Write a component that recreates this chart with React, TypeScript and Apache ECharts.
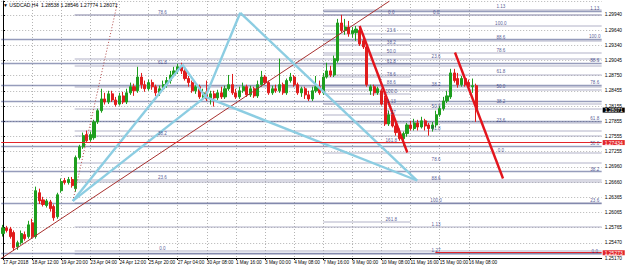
import { useEffect, useRef } from 'react';
import * as echarts from 'echarts';

const header = '\u25BC USDCAD,H4  1.28538 1.28546 1.27774 1.28071';

const dateLabels = [
  '17 Apr 2018', '18 Apr 12:00', '19 Apr 20:00', '23 Apr 04:00', '24 Apr 12:00', '25 Apr 20:00',
  '27 Apr 04:00', '30 Apr 08:00', '1 May 16:00', '3 May 00:00', '4 May 08:00', '7 May 16:00',
  '9 May 00:00', '10 May 08:00', '11 May 16:00', '15 May 00:00', '16 May 08:00',
];
const barsPerLabel = 8;
const slotCount = 165;

// [open, close, low, high]
const ohlc: number[][] = [
  [1.2565, 1.2576, 1.2559, 1.2582], [1.2576, 1.2571, 1.2567, 1.2580], [1.2574, 1.2559, 1.2555, 1.2578],
  [1.2567, 1.2537, 1.2531, 1.2571], [1.2539, 1.2547, 1.2533, 1.2551], [1.2547, 1.2565, 1.2543, 1.2571],
  [1.2563, 1.2555, 1.2551, 1.2569], [1.2559, 1.2582, 1.2555, 1.2590], [1.2586, 1.2559, 1.2555, 1.2594],
  [1.2559, 1.2649, 1.2555, 1.2657], [1.2645, 1.2629, 1.2623, 1.2653], [1.2631, 1.2622, 1.2618, 1.2637],
  [1.2620, 1.2629, 1.2616, 1.2633], [1.2627, 1.2614, 1.2608, 1.2631], [1.2618, 1.2596, 1.2590, 1.2622],
  [1.2598, 1.2641, 1.2594, 1.2645], [1.2649, 1.2667, 1.2645, 1.2673], [1.2669, 1.2665, 1.2661, 1.2674],
  [1.2665, 1.2671, 1.2661, 1.2676], [1.2671, 1.2659, 1.2655, 1.2676], [1.2653, 1.2714, 1.2647, 1.2718],
  [1.2714, 1.2735, 1.2710, 1.2739], [1.2735, 1.2757, 1.2731, 1.2763], [1.2759, 1.2747, 1.2743, 1.2767],
  [1.2749, 1.2759, 1.2745, 1.2765], [1.2753, 1.2784, 1.2749, 1.2788], [1.2784, 1.2806, 1.2780, 1.2810],
  [1.2806, 1.2829, 1.2802, 1.2849], [1.2829, 1.2823, 1.2818, 1.2841], [1.2823, 1.2839, 1.2819, 1.2845],
  [1.2839, 1.2827, 1.2823, 1.2845], [1.2827, 1.2818, 1.2814, 1.2833], [1.2819, 1.2835, 1.2816, 1.2841],
  [1.2835, 1.2823, 1.2819, 1.2843], [1.2823, 1.2841, 1.2819, 1.2849], [1.2841, 1.2853, 1.2837, 1.2861],
  [1.2853, 1.2845, 1.2835, 1.2859], [1.2845, 1.2872, 1.2841, 1.2892], [1.2872, 1.2857, 1.2849, 1.2880],
  [1.2857, 1.2849, 1.2843, 1.2865], [1.2849, 1.2861, 1.2845, 1.2867], [1.2861, 1.2853, 1.2847, 1.2867],
  [1.2853, 1.2841, 1.2835, 1.2857], [1.2841, 1.2849, 1.2835, 1.2855], [1.2849, 1.2857, 1.2845, 1.2865],
  [1.2857, 1.2865, 1.2851, 1.2872], [1.2865, 1.2876, 1.2859, 1.2884], [1.2876, 1.2884, 1.2872, 1.2892],
  [1.2884, 1.2892, 1.2878, 1.2898], [1.2892, 1.2884, 1.2878, 1.2900], [1.2884, 1.2869, 1.2865, 1.2892],
  [1.2869, 1.2861, 1.2853, 1.2874], [1.2861, 1.2845, 1.2841, 1.2865], [1.2845, 1.2853, 1.2839, 1.2857],
  [1.2853, 1.2833, 1.2829, 1.2857], [1.2833, 1.2841, 1.2829, 1.2849], [1.2841, 1.2829, 1.2825, 1.2865],
  [1.2829, 1.2839, 1.2818, 1.2845], [1.2839, 1.2831, 1.2814, 1.2845], [1.2831, 1.2841, 1.2827, 1.2847],
  [1.2841, 1.2833, 1.2829, 1.2853], [1.2833, 1.2849, 1.2829, 1.2855], [1.2849, 1.2857, 1.2845, 1.2876],
  [1.2857, 1.2841, 1.2837, 1.2878], [1.2841, 1.2833, 1.2829, 1.2849], [1.2833, 1.2845, 1.2829, 1.2853],
  [1.2845, 1.2853, 1.2841, 1.2861], [1.2853, 1.2837, 1.2833, 1.2857], [1.2837, 1.2849, 1.2833, 1.2855],
  [1.2849, 1.2835, 1.2831, 1.2853], [1.2835, 1.2857, 1.2831, 1.2865], [1.2857, 1.2872, 1.2853, 1.2884],
  [1.2872, 1.2861, 1.2857, 1.2876], [1.2861, 1.2841, 1.2837, 1.2865], [1.2841, 1.2849, 1.2837, 1.2855],
  [1.2849, 1.2845, 1.2841, 1.2857], [1.2845, 1.2857, 1.2841, 1.2908], [1.2857, 1.2841, 1.2837, 1.2861],
  [1.2841, 1.2865, 1.2837, 1.2869], [1.2865, 1.2872, 1.2861, 1.2880], [1.2872, 1.2857, 1.2853, 1.2876],
  [1.2857, 1.2841, 1.2837, 1.2861], [1.2841, 1.2849, 1.2833, 1.2853], [1.2849, 1.2837, 1.2829, 1.2853],
  [1.2837, 1.2829, 1.2825, 1.2845], [1.2829, 1.2845, 1.2825, 1.2853], [1.2845, 1.2853, 1.2841, 1.2874],
  [1.2853, 1.2841, 1.2837, 1.2865], [1.2841, 1.2872, 1.2837, 1.2880], [1.2872, 1.2884, 1.2869, 1.2900],
  [1.2884, 1.2876, 1.2872, 1.2894], [1.2876, 1.2908, 1.2872, 1.2914], [1.2904, 1.2978, 1.2900, 1.2986],
  [1.2978, 1.2963, 1.2959, 1.2994], [1.2963, 1.2970, 1.2955, 1.2986], [1.2970, 1.2957, 1.2951, 1.2982],
  [1.2957, 1.2963, 1.2949, 1.2970], [1.2959, 1.2966, 1.2943, 1.2972], [1.2963, 1.2937, 1.2933, 1.2968],
  [1.2943, 1.2931, 1.2927, 1.2951], [1.2931, 1.2857, 1.2853, 1.2935], [1.2845, 1.2853, 1.2837, 1.2857],
  [1.2853, 1.2841, 1.2835, 1.2857], [1.2841, 1.2849, 1.2837, 1.2853], [1.2845, 1.2819, 1.2816, 1.2849],
  [1.2831, 1.2780, 1.2776, 1.2835], [1.2780, 1.2798, 1.2776, 1.2806], [1.2798, 1.2776, 1.2773, 1.2802],
  [1.2776, 1.2763, 1.2757, 1.2782], [1.2763, 1.2751, 1.2747, 1.2771], [1.2751, 1.2761, 1.2737, 1.2765],
  [1.2761, 1.2778, 1.2755, 1.2782], [1.2778, 1.2771, 1.2767, 1.2786], [1.2771, 1.2782, 1.2767, 1.2790],
  [1.2782, 1.2774, 1.2767, 1.2788], [1.2774, 1.2786, 1.2771, 1.2794], [1.2786, 1.2776, 1.2767, 1.2790],
  [1.2778, 1.2771, 1.2757, 1.2782], [1.2771, 1.2778, 1.2765, 1.2784], [1.2778, 1.2798, 1.2773, 1.2806],
  [1.2798, 1.2810, 1.2794, 1.2816], [1.2810, 1.2825, 1.2806, 1.2833], [1.2825, 1.2835, 1.2821, 1.2845],
  [1.2833, 1.2880, 1.2829, 1.2888], [1.2880, 1.2865, 1.2861, 1.2888], [1.2869, 1.2857, 1.2851, 1.2880],
  [1.2857, 1.2869, 1.2853, 1.2874], [1.2869, 1.2857, 1.2853, 1.2872], [1.2861, 1.2853, 1.2849, 1.2867],
  [1.2853, 1.2855, 1.2841, 1.2869], [1.2855, 1.2807, 1.2784, 1.2859],
];

const yTickLabels = [
  '1.25170', '1.25470', '1.25765', '1.26065', '1.26365', '1.26660', '1.26960', '1.27255', '1.27555',
  '1.27855', '1.28155', '1.28455', '1.28750', '1.29045', '1.29340', '1.29640', '1.29940',
];
const yMin = 1.2517;
const yStep = 0.00298125;
const yMax = 1.30211;

// Fibonacci objects: levels (%), price at 0% and 100%, bar span, bar where the texts sit
const fibALevels = [0, 23.6, 38.2, 61.8, 78.6];
const fibBLevels = [0, 23.6, 38.2, 50, 61.8, 78.6, 88.6, 100, 113, 127, 161.8, 261.8];
const fibCLevels = [0, 23.6, 38.2, 50, 61.8, 78.6, 88.6, 100, 113, 127];
const fibDLevels = [0, 23.6, 38.2, 50, 61.8, 78.6, 88.6, 100, 113];
const fibELevels = [0, 23.6, 38.2, 50, 61.8, 78.6, 88.6, 100, 113];
const fibAnchors = [
  { levels: fibALevels, p0: 1.25314, p100: 1.31194, from: 19.7, to: 164.5, textAt: 43.8 },
  { levels: fibBLevels, p0: 1.2994, p100: 1.28391, from: 88, to: 112, textAt: 106.7 },
  { levels: fibCLevels, p0: 1.2994, p100: 1.26255, from: 19.7, to: 164.5, textAt: 119 },
  { levels: fibDLevels, p0: 1.27235, p100: 1.29724, from: 88, to: 164.5, textAt: 136.8 },
  { levels: fibELevels, p0: 1.25255, p100: 1.29469, from: -0.5, to: 164.5, textAt: 162.6 },
];
const fibETopFrom = 88; // the 1.13 line of the right-edge fib starts mid-chart
const levelName = (lv: number) => (lv === 113 ? '1.13' : lv === 127 ? '1.27' : lv.toFixed(1));

const navyLevels = [1.28254];
const redLevels = [1.27434, 1.25273];
const redLevelFrom = [-0.5, 118.8];
const lastPrice = 1.28071;

// XABCD harmonic pattern points (bar index, price)
const patternIdx = [19.2, 49.3, 55.6, 65.2, 113.8];
const patternPrice = [1.2629, 1.2896, 1.2833, 1.2998, 1.2669];
const patternLegs = [[0, 1], [1, 2], [2, 3], [3, 4], [0, 2], [2, 4]];

const arrowLines = [
  [[98.0, 1.2972], [111.1, 1.2724]],
  [[124.2, 1.292], [137.4, 1.2673]],
];
const trendLine = [[-0.5, 1.2516], [106.2, 1.3021]];
const fanLine = [[19.2, 1.2629], [31.5, 1.3019]];

const FONT = 'Liberation Sans';

export default function App() {
  const ref = useRef<HTMLDivElement>(null);
  useEffect(() => {
    if (!ref.current) return;
    const chart = echarts.init(ref.current, undefined, { renderer: 'svg' });
    const categories = Array.from({ length: slotCount }, (_, i) => String(i));
    const isLabelBar = (i: number) => i % barsPerLabel === 0 && i / barsPerLabel < dateLabels.length;

    const hLines: any[] = [];
    const fibTexts: any[] = [];
    fibAnchors.forEach((f, fi) => {
      f.levels.forEach((lv) => {
        const p = f.p0 + ((f.p100 - f.p0) * lv) / 100;
        const from = fi === 4 && lv > 100 ? fibETopFrom : f.from;
        hLines.push({
          coords: [[from, p], [f.to, p]],
          lineStyle: fi === 4 ? { color: '#2d3a78', width: 1.3 } : { color: '#9a9ab6', width: 1.5 },
        });
        fibTexts.push({ value: [f.textAt, p], name: levelName(lv) });
      });
    });
    navyLevels.forEach((p) => hLines.push({ coords: [[-0.5, p], [164.5, p]], lineStyle: { color: '#2d3a78', width: 1.3 } }));

    const blueLegs = patternLegs.map(([a, b]) => ({
      coords: [[patternIdx[a], patternPrice[a]], [patternIdx[b], patternPrice[b]]],
    }));

    const boxLabel = (bg: string, text: string) => ({
      show: true, position: 'end', distance: 1, formatter: text, backgroundColor: bg, color: '#fff',
      fontSize: 5, lineHeight: 5, fontFamily: FONT, padding: [0, 2, 0, 2],
    });

    const markData: any[] = redLevels.map((p, i) => [
      { coord: [redLevelFrom[i], p], lineStyle: { color: '#e3262a', width: 1, type: 'solid' }, label: boxLabel('#e3262a', p.toFixed(5)) },
      { coord: [164.5, p] },
    ]);
    markData.push([
      { coord: [-0.5, lastPrice], lineStyle: { color: 'rgba(0,0,0,0)', width: 0 }, label: boxLabel('#000', lastPrice.toFixed(5)) },
      { coord: [164.5, lastPrice] },
    ]);

    const option: any = {
      animation: false,
      backgroundColor: '#ffffff',
      textStyle: { fontFamily: FONT },
      graphic: [
        { type: 'text', left: 3, top: 2, z: 100, style: { text: header, fontSize: 5, fill: '#000', fontFamily: FONT } },
      ],
      grid: { left: 1, right: 21, top: 1, bottom: 10, containLabel: false },
      xAxis: [
        {
          type: 'category',
          data: categories,
          boundaryGap: true,
          axisLine: { show: true, lineStyle: { color: '#000', width: 1 } },
          axisTick: { show: true, alignWithLabel: true, interval: (i: number) => isLabelBar(i), length: 2, lineStyle: { color: '#000' } },
          axisLabel: {
            interval: 0, fontSize: 4.7, color: '#000', align: 'left', margin: 2, fontFamily: FONT,
            formatter: (_v: string, i: number) => (isLabelBar(i) ? dateLabels[i / barsPerLabel] : ''),
          },
          splitLine: {
            show: true, alignWithLabel: true, interval: (i: number) => isLabelBar(i),
            lineStyle: { color: '#b4b4b4', type: [1, 2], width: 1 },
          },
        },
        { type: 'value', min: -0.5, max: slotCount - 0.5, show: false },
      ],
      yAxis: {
        type: 'value', position: 'right', min: yMin, max: yMax, interval: yStep,
        axisLine: { show: true, lineStyle: { color: '#000', width: 1 } },
        axisTick: { show: true, length: 2, lineStyle: { color: '#000' } },
        axisLabel: {
          fontSize: 4.8, lineHeight: 5, color: '#000', margin: 3, fontFamily: FONT,
          formatter: (v: number) => {
            const k = Math.round((v - yMin) / yStep);
            return Math.abs(v - (yMin + k * yStep)) < yStep * 0.02 && yTickLabels[k] ? yTickLabels[k] : '';
          },
        },
        splitLine: { show: true, lineStyle: { color: '#b4b4b4', type: [1, 2], width: 1 } },
      },
      series: [
        {
          type: 'lines', coordinateSystem: 'cartesian2d', xAxisIndex: 1, yAxisIndex: 0, silent: true, z: 1,
          data: hLines,
        },
        {
          type: 'candlestick', xAxisIndex: 0, yAxisIndex: 0, data: ohlc, barWidth: 2.6, z: 2,
          itemStyle: { color: '#1e9e1e', color0: '#e01c1c', borderColor: '#1e9e1e', borderColor0: '#e01c1c', borderWidth: 1 },
        },
        {
          type: 'lines', coordinateSystem: 'cartesian2d', xAxisIndex: 1, yAxisIndex: 0, silent: true, z: 3,
          data: [{ coords: trendLine }],
          lineStyle: { color: '#a8312f', width: 1, opacity: 1 },
        },
        {
          type: 'lines', coordinateSystem: 'cartesian2d', xAxisIndex: 1, yAxisIndex: 0, silent: true, z: 3,
          data: [{ coords: fanLine }],
          lineStyle: { color: '#b24a4a', width: 1, type: [1, 2], opacity: 1 },
        },
        {
          type: 'lines', coordinateSystem: 'cartesian2d', xAxisIndex: 1, yAxisIndex: 0, silent: true, z: 4,
          data: blueLegs,
          lineStyle: { color: '#8ccde2', width: 2.4, opacity: 1 },
        },
        {
          type: 'lines', coordinateSystem: 'cartesian2d', xAxisIndex: 1, yAxisIndex: 0, silent: true, z: 5,
          data: arrowLines.map((c) => ({ coords: c })),
          lineStyle: { color: '#e3141c', width: 2.4, opacity: 1 },
        },
        {
          type: 'scatter', xAxisIndex: 1, yAxisIndex: 0, silent: true, z: 6, symbolSize: 0,
          data: fibTexts,
          label: {
            show: true, position: 'top', distance: 0, fontSize: 4.6, color: '#2a2f78', fontFamily: FONT,
            formatter: (p: any) => p.name,
          },
          markLine: { symbol: ['none', 'none'], silent: true, animation: false, data: markData },
        },
      ],
    };
    chart.setOption(option);
    return () => chart.dispose();
  }, []);
  return <div ref={ref} style={{ width: 625, height: 268, position: 'absolute', left: 0, top: 0 }} />;
}
